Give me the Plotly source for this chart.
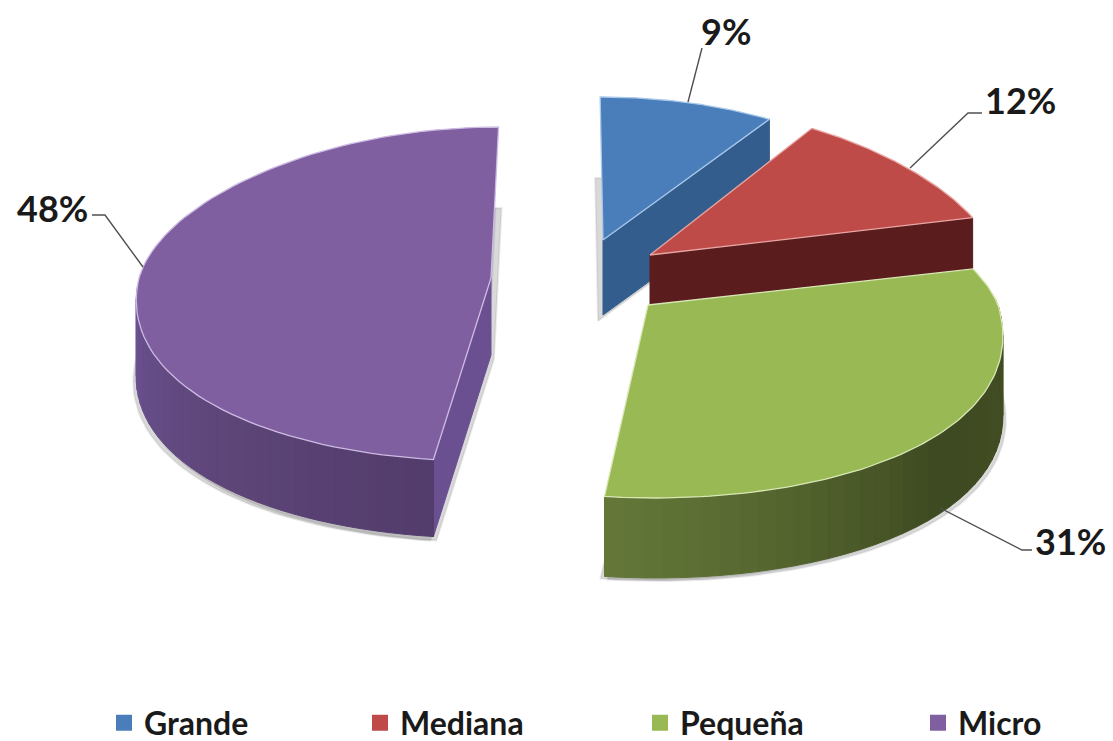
import numpy as np
import plotly.graph_objects as go

# ---- data ----
categories = ["Grande", "Mediana", "Pequeña", "Micro"]
values = [9, 12, 31, 48]
labels = ["9%", "12%", "31%", "48%"]

# ---- styles and layout of the drawing (pixel space of the axes) ----
W, H = 1113, 741
top_colors = ["#4a7ebb", "#be4b48", "#98b954", "#7f5f9f"]
edge_colors = ["#a9c8ea", "#e8a5a3", "#d8e8b4", "#cdbbe4"]
cut_colors = ["#335d8c", "#5a1c1c", None, "#6a5090"]
wall_stops = [None, None,
              [(0.0, "#65783a"), (0.25, "#55662f"), (0.55, "#3e4a22"), (1.0, "#454f23")],
              [(0.0, "#533d6c"), (0.45, "#5e4679"), (1.0, "#6c5393")]]
centers = [(603, 240), (650, 255), (648, 305), (491, 278)]
rx = [315, 346, 350, 352]
ry_up = [143, 150, 145, 151]
ry_down = [143, 150, 193, 183]
persp = [0.0, 0.15, 0.15, 0.1]
skew = [0.02, 0.0, 0.036, -0.05]
depth = [75, 72, 80, 77]
cut_edge = ["end", "end", None, "start"]
shadows = [[(-5, 6)], [], [(3, 3), (-4, 2)], [(3, 4), (-3, 4)]]
leaders = [[(688, 102), (702, 48)],
           [(910, 168), (968, 113), (982, 113)],
           [(940, 508), (1022, 550), (1032, 550)],
           [(143, 267), (105, 215), (92, 215)]]
label_pos = [(726, 31), (1020, 100), (1070, 541), (52, 208)]
legend_left = [104, 360, 640, 918]
legend_y = 723
FONT = "Lato"


def arc(i, t0, t1, n=90):
    t = np.radians(np.linspace(t0, t1, n))
    s, c = np.sin(t), np.cos(t)
    dy = np.where(c > 0, -ry_up[i] * c, -ry_down[i] * c)
    dx = rx[i] * s * (1 - persp[i] * c) + skew[i] * dy
    return centers[i][0] + dx, centers[i][1] + dy


def hex2rgb(h):
    return np.array([int(h[k:k + 2], 16) for k in (1, 3, 5)], float)


def ramp(stops, f):
    for (f0, c0), (f1, c1) in zip(stops, stops[1:]):
        if f <= f1:
            m = (f - f0) / (f1 - f0)
            v = hex2rgb(c0) * (1 - m) + hex2rgb(c1) * m
            return "rgb(%d,%d,%d)" % tuple(v)
    return stops[-1][1]


def poly(x, y, fill, line=None, width=1.0):
    return go.Scatter(x=list(x), y=list(y), mode="lines", fill="toself", fillcolor=fill,
                      line=dict(color=line or fill, width=width), hoverinfo="skip", showlegend=False)


cum = np.concatenate([[0], np.cumsum(values)]) / sum(values) * 360
fig = go.Figure()

# soft shadows under the solids
for i in range(4):
    ax, ay = arc(i, cum[i], cum[i + 1])
    px = np.r_[centers[i][0], ax, centers[i][0]]
    py = np.r_[centers[i][1], ay, centers[i][1]] + depth[i]
    for sx, sy in shadows[i]:
        fig.add_trace(poly(px + sx, py + sy, "rgba(130,130,130,0.3)", "rgba(130,130,130,0.15)", 2))

# solids, back to front
for i in range(4):
    t0, t1 = cum[i], cum[i + 1]
    ax, ay = arc(i, t0, t1)
    cx, cy = centers[i]
    d = depth[i]
    # straight cut face
    if cut_edge[i]:
        ex, ey = (ax[-1], ay[-1]) if cut_edge[i] == "end" else (ax[0], ay[0])
        fig.add_trace(poly([cx, ex, ex, cx, cx], [cy, ey, ey + d, cy + d, cy], cut_colors[i]))
    # outer curved wall, in shaded strips
    if wall_stops[i]:
        w0, w1 = max(t0, 88), min(t1, 268)
        n = 36
        wx, wy = arc(i, w0, w1, n + 1)
        for k in range(n):
            col = ramp(wall_stops[i], (k + 0.5) / n)
            if i == 2:
                col = ramp(wall_stops[i], 1 - (k + 0.5) / n)
            fig.add_trace(poly([wx[k], wx[k + 1], wx[k + 1], wx[k], wx[k]],
                               [wy[k], wy[k + 1], wy[k + 1] + d, wy[k] + d, wy[k]], col))
    # top face
    fig.add_trace(poly(np.r_[cx, ax, cx], np.r_[cy, ay, cy], top_colors[i], edge_colors[i], 1.3))

# leader lines
for pts in leaders:
    fig.add_trace(go.Scatter(x=[p[0] for p in pts], y=[p[1] for p in pts], mode="lines",
                             line=dict(color="#505050", width=1.4), hoverinfo="skip", showlegend=False))

# percentage labels
for txt, (x, y) in zip(labels, label_pos):
    fig.add_annotation(x=x, y=y, text=f"<b>{txt}</b>", showarrow=False, xref="x", yref="y",
                       font=dict(family=FONT, size=36, color="#1a1a1a"))

# one legend per entry, because the entries are unevenly spaced
layout_legends = {}
for i, name in enumerate(categories):
    key = "legend" if i == 0 else f"legend{i + 1}"
    fig.add_trace(go.Scatter(x=[None], y=[None], mode="markers", name=name, legend=key,
                             marker=dict(symbol="square", size=16, color=top_colors[i])))
    layout_legends[key] = dict(x=legend_left[i] / W, y=1 - legend_y / H, xanchor="left", yanchor="middle",
                               bgcolor="rgba(0,0,0,0)", itemclick=False, itemdoubleclick=False,
                               font=dict(family=FONT, size=32, color="#1a1a1a", weight="bold"))

fig.update_layout(width=W, height=H, margin=dict(l=0, r=0, t=0, b=0, autoexpand=False),
                  plot_bgcolor="white", paper_bgcolor="white",
                  xaxis=dict(range=[0, W], visible=False, fixedrange=True),
                  yaxis=dict(range=[H, 0], visible=False, fixedrange=True),
                  **layout_legends)

fig.write_html("out.html", config={"displayModeBar": False},
               post_script="document.body.style.margin='0';")
